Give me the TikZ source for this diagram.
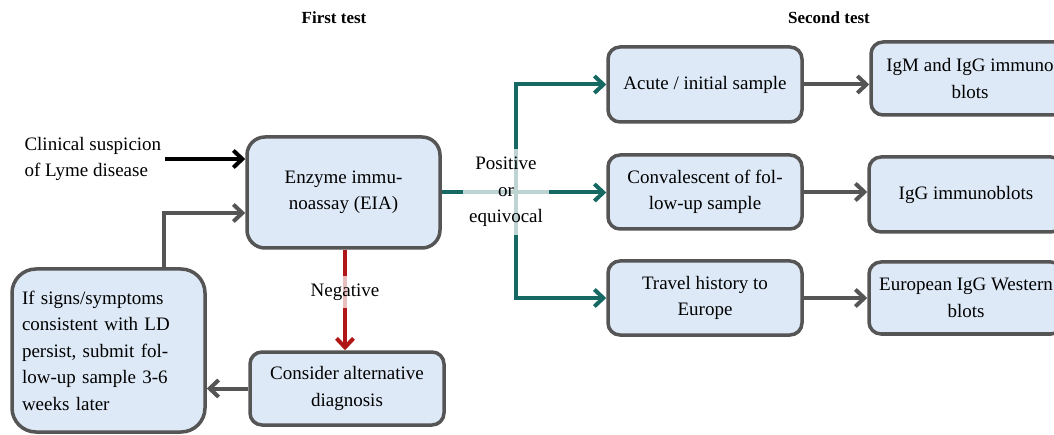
\documentclass[tikz,border=0pt]{standalone}
\usepackage{fontspec}
\setmainfont{Liberation Serif}
\usetikzlibrary{arrows.meta}
\definecolor{boxfill}{RGB}{221,233,246}
\definecolor{boxline}{RGB}{85,85,85}
\definecolor{tealline}{RGB}{22,104,98}
\definecolor{redline}{RGB}{176,22,22}
\begin{document}
\begin{tikzpicture}[x=1pt,y=-1pt,
  font=\fontsize{19}{26.5}\selectfont,
  box/.style={draw=boxline, fill=boxfill, line width=3.5pt, rounded corners=12pt,
    align=center, inner sep=0pt},
  conn/.style={line width=4pt, -{Straight Barb[length=9pt,width=17pt]}},
  grayconn/.style={conn, draw=boxline},
  tealconn/.style={conn, draw=tealline},
  redconn/.style={conn, draw=redline},
  veil/.style={fill=white, fill opacity=0.72, text opacity=1, align=center,
    inner xsep=6pt, inner ysep=8pt},
  heading/.style={font=\fontsize{17}{20}\selectfont\bfseries}]
\useasboundingbox (0,0) rectangle (1054,435);
\clip (0,0) rectangle (1054,435);

% column headings
\node[heading] (h1) at (334,18) {First test};
\node[heading] (h2) at (829,18) {Second test};

% first test
\node[align=left, anchor=west] (clin) at (21,159) {Clinical suspicion\\of Lyme disease};
\node[box, minimum width=193pt, minimum height=111pt, rounded corners=18pt] (eia)
  at (343.5,192.5) {Enzyme immu-\\noassay (EIA)};
\node[box, minimum width=193pt, minimum height=163pt, rounded corners=24pt,
  align=left, text width=173pt] (fup) at (108.5,350.5)
  {If signs/symptoms\\consistent with LD\\persist, submit fol-\\low-up sample 3-6\\weeks later};
\node[box, minimum width=194pt, minimum height=73pt] (cons) at (347,388.5)
  {Consider alternative\\diagnosis};

% second test
\node[box, minimum width=194pt, minimum height=75pt] (acute) at (705,84.5)
  {Acute / initial sample};
\node[box, minimum width=194pt, minimum height=74pt] (conv) at (705,192)
  {Convalescent of fol-\\low-up sample};
\node[box, minimum width=194pt, minimum height=74pt] (travel) at (705,298)
  {Travel history to\\Europe};
\node[box, minimum width=198pt, minimum height=73pt] (igm) at (970,78.5)
  {IgM and IgG immuno\\blots};
\node[box, minimum width=194pt, minimum height=75pt] (igg) at (966,194.5)
  {IgG immunoblots};
\node[box, minimum width=194pt, minimum height=72pt] (eur) at (966,298)
  {European IgG Western\\blots};

% connectors
\coordinate (fb) at (164,213);
\coordinate (split) at (516,192);
\coordinate (neg) at (345,292);
\draw[conn] (clin.east |- 0,159) -- (eia.west |- 0,159);
\draw[grayconn] (fup.north -| fb) |- (eia.west |- fb);
\draw[redconn] (eia.south -| neg) -- (cons.north -| neg);
\draw[grayconn] (cons.west) -- (fup.east |- cons.west);
\draw[tealconn] (eia.east) -- (conv.west |- eia.east);
\draw[tealconn] (split) |- (acute.west);
\draw[tealconn] (split) |- (travel.west);
\draw[grayconn] (acute.east) -- (igm.west |- acute.east);
\draw[grayconn] (conv.east) -- (igg.west |- conv.east);
\draw[grayconn] (travel.east) -- (eur.west |- travel.east);

% labels over the lines
\node[veil] (poslab) at (506,192) {Positive\\or\\equivocal};
\node[veil] (neglab) at (neg) {Negative};
\end{tikzpicture}
\end{document}
